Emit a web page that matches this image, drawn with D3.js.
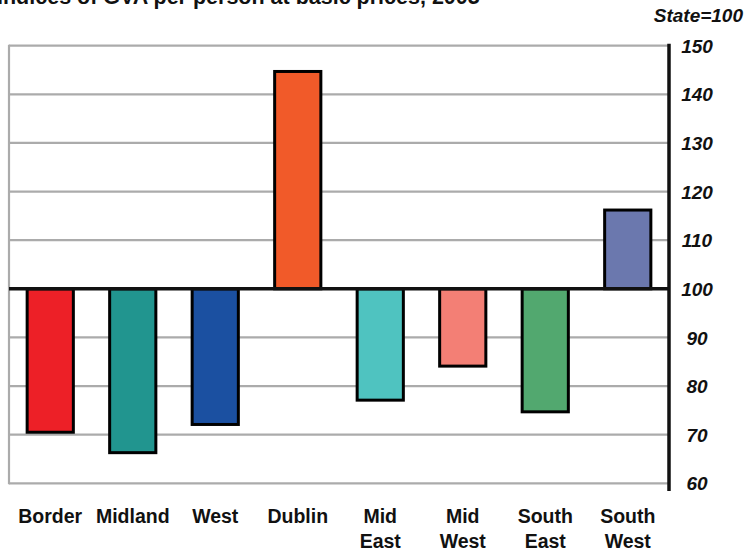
<!DOCTYPE html>
<html>
<head>
<meta charset="utf-8">
<script src="https://cdn.jsdelivr.net/npm/d3@7"></script>
<style>
  html, body { margin: 0; padding: 0; background: #fff; }
  svg { display: block; }
  text { font-family: "Liberation Sans", Arial, Helvetica, sans-serif; font-weight: bold; fill: #111; }
</style>
</head>
<body>
<svg id="chart" width="746" height="551"></svg>
<script>
const categories = ["Border", "Midland", "West", "Dublin", "Mid East", "Mid West", "South East", "South West"];
const values = [70.5, 66.3, 72.1, 144.7, 77.1, 84.1, 74.7, 116.2];
const colors = ["#ed2027", "#21958f", "#1b50a1", "#f15a29", "#4fc3c0", "#f37f75", "#52a86f", "#6b78ae"];
const tickValues = [60, 70, 80, 90, 100, 110, 120, 130, 140, 150];
const baseline = 100;
const title = "Indices of GVA per person at basic prices, 2005";
const unitLabel = "State=100";

(function () {
const svg = d3.select("#chart");
const mLeft = 9, mRight = 669, mTop = 45.7, mBottom = 483.3;

const x = d3.scaleBand().domain(categories).range([mLeft, mRight]).paddingInner(0.44).paddingOuter(0.22);
const y = d3.scaleLinear().domain([60, 150]).range([mBottom, mTop]);

// title (clipped at top as in reference)
svg.append("text").attr("x", -3).attr("y", 4).attr("font-size", 21.5).text(title);
svg.append("text").attr("x", 743).attr("y", 22).attr("font-size", 19)
  .attr("font-style", "italic").attr("text-anchor", "end").text(unitLabel);

// grid
svg.append("g").selectAll("line").data(tickValues.filter(d => d !== baseline)).join("line")
  .attr("x1", mLeft).attr("x2", mRight)
  .attr("y1", d => y(d)).attr("y2", d => y(d))
  .attr("stroke", "#ababab").attr("stroke-width", 2.2);
svg.append("line").attr("x1", mLeft).attr("x2", mLeft).attr("y1", y(150) - 1).attr("y2", y(60) + 1)
  .attr("stroke", "#ababab").attr("stroke-width", 2.2);

// bars
svg.append("g").selectAll("rect").data(categories).join("rect")
  .attr("x", d => x(d))
  .attr("width", x.bandwidth())
  .attr("y", (d, i) => y(Math.max(values[i], baseline)))
  .attr("height", (d, i) => Math.abs(y(values[i]) - y(baseline)))
  .attr("fill", (d, i) => colors[i])
  .attr("stroke", "#000").attr("stroke-width", 3);

// baseline
svg.append("line").attr("x1", mLeft).attr("x2", mRight + 1).attr("y1", y(baseline)).attr("y2", y(baseline))
  .attr("stroke", "#111").attr("stroke-width", 3.5);

// right axis
const axis = d3.axisRight(y).tickValues(tickValues).tickSize(0).tickPadding(0);
const ag = svg.append("g").attr("transform", `translate(${mRight},0)`).call(axis);
ag.select(".domain").remove();
ag.append("line").attr("x1", 0).attr("x2", 0).attr("y1", y(150) - 2).attr("y2", 491)
  .attr("stroke", "#111").attr("stroke-width", 3.5);
ag.selectAll(".tick text")
  .attr("x", 28).attr("text-anchor", "middle")
  .attr("font-size", 19).attr("font-style", "italic")
  .attr("font-family", "Liberation Sans, Arial, sans-serif").attr("font-weight", "bold")
  .attr("fill", "#111").attr("dy", "0.35em");

// category labels
const lg = svg.append("g");
categories.forEach((c, i) => {
  const words = c.split(" ");
  const t = lg.append("text").attr("text-anchor", "middle").attr("font-size", 19.5)
    .attr("x", x(c) + x.bandwidth() / 2).attr("y", 523);
  words.forEach((w, j) => {
    t.append("tspan").attr("x", x(c) + x.bandwidth() / 2).attr("dy", j === 0 ? 0 : 25).text(w);
  });
});
})();
</script>
</body>
</html>
